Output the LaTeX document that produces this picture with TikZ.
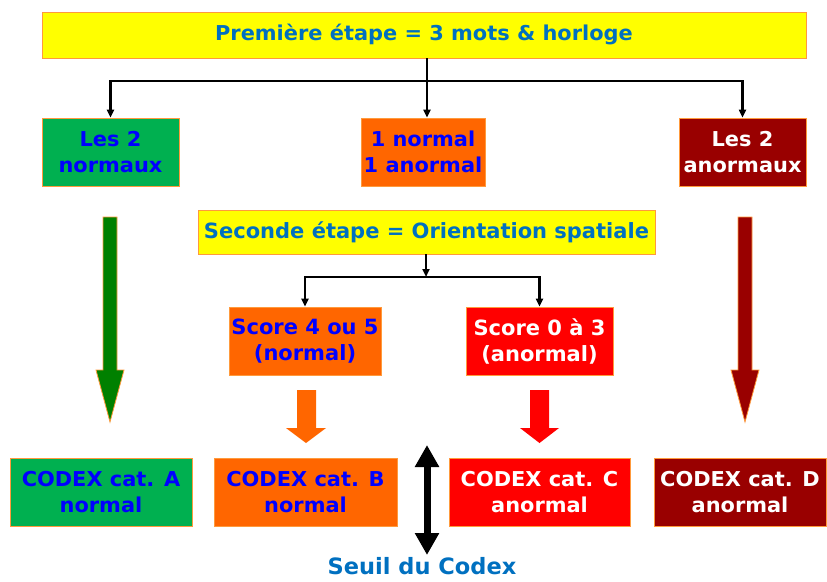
\documentclass[tikz,border=0pt]{standalone}
\usepackage{fontspec}
\setmainfont{DejaVu Sans}
\newfontfamily\narrowfont{DejaVu Sans}[FakeStretch=1.02]
\usepackage{tikz}
\usetikzlibrary{arrows.meta, positioning, calc}
\definecolor{headblue}{HTML}{0070C0}
\definecolor{txtblue}{HTML}{0000FF}
\definecolor{boxline}{HTML}{FF9A3C}
\definecolor{stepyellow}{HTML}{FFFF00}
\definecolor{okgreen}{HTML}{00B050}
\definecolor{midorange}{HTML}{FF6600}
\definecolor{badred}{HTML}{FF0000}
\definecolor{darkred}{HTML}{990000}
\definecolor{arrowgreen}{HTML}{008000}
\tikzset{
  box/.style    ={draw=boxline, line width=0.8pt, inner sep=0pt, align=center,
                  minimum height=68pt},
  stepbox/.style={box, fill=stepyellow, text=headblue},
  narrow/.style ={font=\narrowfont\bfseries\fontsize{20.5}{26}\selectfont},
  wide/.style   ={font=\bfseries\fontsize{21}{26}\selectfont},
  boxg/.style   ={box, fill=okgreen,   text=txtblue},
  boxo/.style   ={box, fill=midorange, text=txtblue},
  boxr/.style   ={box, fill=badred,    text=white},
  boxd/.style   ={box, fill=darkred,   text=white},
  link/.style   ={-{Triangle[length=8pt,width=7pt]}, line width=2.2pt, draw=black},
  blockarrow/.style={draw=boxline, line width=0.8pt}
}
\begin{document}
\begin{tikzpicture}[x=1pt, y=-1pt]
  \useasboundingbox (0,0) rectangle (827,581);

  % premiere etape
  \node[stepbox, narrow, minimum width=764pt, minimum height=46pt] (step1) at (424,35)
    {Première étape = 3 mots \& horloge};
  \node[boxg, narrow, minimum width=137pt] (n1) at (110.5,152) {Les 2\\normaux};
  \node[boxo, narrow, minimum width=124pt] (n2) at (423,152) {1 normal\\1 anormal};
  \node[boxd, narrow, minimum width=127pt] (n3) at (742.5,152) {Les 2\\anormaux};

  \coordinate (j1) at (427,81);
  \draw[link] (step1.south -| j1) -- (j1 |- n2.north);
  \draw[link, {Triangle[length=8pt,width=7pt]}-{Triangle[length=8pt,width=7pt]}]
    (n1.north) |- (j1) -| (n3.north);

  % seconde etape
  \node[stepbox, wide, minimum width=457pt, minimum height=44pt] (step2) at (426.5,232)
    {Seconde étape = Orientation spatiale};
  \node[boxo, wide, minimum width=152pt] (s1) at (305,341) {Score 4 ou 5\\(normal)};
  \node[boxr, wide, minimum width=147pt] (s2) at (539.5,341) {Score 0 à 3\\(anormal)};

  \coordinate (j2) at (426,277);
  \draw[link] (step2.south -| j2) -- (j2);
  \draw[link, {Triangle[length=8pt,width=7pt]}-{Triangle[length=8pt,width=7pt]}]
    (s1.north) |- (j2) -| (s2.north);

  % categories
  \node[boxg, narrow, minimum width=182pt] (cA) at (101,492) {CODEX cat. A\\normal};
  \node[boxo, narrow, minimum width=183pt] (cB) at (305.5,492) {CODEX cat. B\\normal};
  \node[boxr, narrow, minimum width=181pt] (cC) at (539.5,492) {CODEX cat. C\\anormal};
  \node[boxd, narrow, minimum width=172pt] (cD) at (740,492) {CODEX cat. D\\anormal};

  % fleches pleines
  \filldraw[blockarrow, fill=arrowgreen] (103,217) -- (117,217) -- (117,370) -- (124,370)
    -- (110,422) -- (96,370) -- (103,370) -- cycle;
  \filldraw[blockarrow, fill=darkred] (738,217) -- (752,217) -- (752,370) -- (759,370)
    -- (745,422) -- (731,370) -- (738,370) -- cycle;
  \filldraw[blockarrow, fill=midorange, draw=none] (297,390) -- (316,390) -- (316,428)
    -- (326,428) -- (306,443) -- (286,428) -- (297,428) -- cycle;
  \filldraw[blockarrow, fill=badred, draw=none] (530,390) -- (549,390) -- (549,428)
    -- (559,428) -- (539.5,443) -- (520,428) -- (530,428) -- cycle;

  % seuil
  \coordinate (th1) at (427,445);
  \coordinate (th2) at (427,555);
  \draw[line width=7pt, {Triangle[length=22pt,width=23pt]}-{Triangle[length=22pt,width=23pt]}]
    (th1) -- (th2);
  \node[font=\bfseries\fontsize{22.5}{26}\selectfont, text=headblue] (seuil) at (422,566)
    {Seuil du Codex};
\end{tikzpicture}
\end{document}
